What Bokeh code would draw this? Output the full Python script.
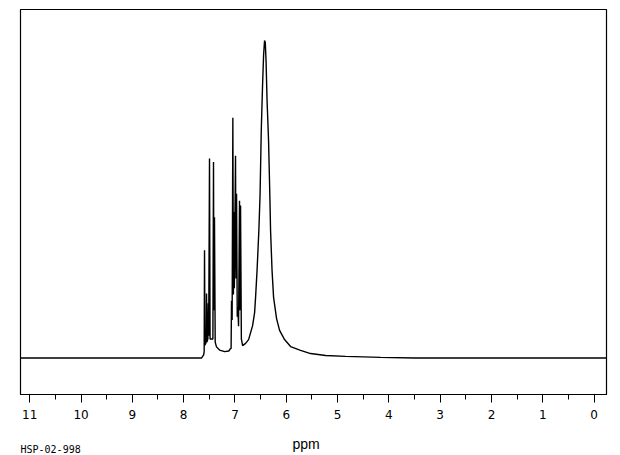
from bokeh.plotting import figure
from bokeh.models import Range1d, SingleIntervalTicker, Label
from bokeh.embed import file_html
from bokeh.resources import INLINE

# Traced spectrum vertices (chemical shift in ppm, relative intensity)
baseline_left_ppm = [11.18, 10.5, 9.5, 8.5, 7.9, 7.65]
baseline_left_int = [0.0, 0.0, 0.0, 0.0, 0.0, 0.0]

aromatic1_ppm = [7.61, 7.600, 7.593, 7.585, 7.560, 7.554, 7.545, 7.528, 7.521,
                 7.512, 7.496, 7.485, 7.43, 7.418, 7.410, 7.399, 7.385, 7.36,
                 7.30, 7.20, 7.12, 7.085]
aromatic1_int = [0.01, 0.02, 0.339, 0.04, 0.05, 0.203, 0.05, 0.06, 0.172,
                 0.07, 0.628, 0.06, 0.06, 0.617, 0.15, 0.443, 0.05, 0.035,
                 0.025, 0.02, 0.022, 0.03]

aromatic2_ppm = [7.075, 7.067, 7.055, 7.041, 7.030, 7.022, 7.012, 6.989, 6.980,
                 6.969, 6.955, 6.944, 6.930, 6.911, 6.900, 6.891, 6.875]
aromatic2_int = [0.03, 0.18, 0.12, 0.757, 0.20, 0.46, 0.22, 0.637, 0.25,
                 0.517, 0.13, 0.16, 0.10, 0.495, 0.15, 0.48, 0.06]

broad_ppm = [6.851, 6.793, 6.734, 6.695, 6.656, 6.617, 6.598, 6.569, 6.534,
             6.511, 6.487, 6.462, 6.442, 6.423, 6.409, 6.394, 6.374, 6.345,
             6.320, 6.306, 6.277, 6.247, 6.189, 6.130, 6.033, 5.916, 5.721,
             5.526, 5.233, 4.843, 4.160]
broad_int = [0.039, 0.046, 0.058, 0.080, 0.102, 0.143, 0.191, 0.276, 0.402,
             0.512, 0.717, 0.858, 0.953, 1.0, 0.994, 0.937, 0.811, 0.685,
             0.512, 0.402, 0.276, 0.191, 0.124, 0.087, 0.058, 0.036, 0.024,
             0.014, 0.008, 0.005, 0.002]

baseline_right_ppm = [3.5, 2.5, 1.5, 0.5, -0.242]
baseline_right_int = [0.0, 0.0, 0.0, 0.0, 0.0]

ppm = baseline_left_ppm + aromatic1_ppm + aromatic2_ppm + broad_ppm + baseline_right_ppm
intensity = baseline_left_int + aromatic1_int + aromatic2_int + broad_int + baseline_right_int

x_label = "ppm"
code_label = "HSP-02-998"

p = figure(width=612, height=455, output_backend="svg", toolbar_location=None,
           x_range=Range1d(11.18, -0.242), y_range=Range1d(-0.115, 1.0976),
           y_axis_location=None)
p.min_border_left = 20
p.min_border_right = 6
p.min_border_top = 9
p.min_border_bottom = 61
p.background_fill_color = "white"
p.border_fill_color = "white"
p.outline_line_color = "black"
p.outline_line_width = 1.2
p.grid.visible = False

p.line(ppm, intensity, line_color="black", line_width=1.4)

ax = p.xaxis[0]
ax.ticker = SingleIntervalTicker(interval=1, num_minor_ticks=2)
ax.axis_line_color = "black"
ax.major_tick_line_color = "black"
ax.minor_tick_line_color = "black"
ax.major_tick_in = 0
ax.major_tick_out = 8
ax.minor_tick_in = 0
ax.minor_tick_out = 5
ax.major_label_standoff = 7
ax.major_label_text_font = "DejaVu Sans"
ax.major_label_text_font_size = "12px"
ax.major_label_text_color = "black"

# texts below the axis, placed in the bottom side panel so they are not clipped
p.add_layout(Label(x=5.613, y=-0.270, text=x_label, text_align="center",
                   text_baseline="alphabetic", text_font="Liberation Sans",
                   text_font_size="14px", text_color="black"), "below")
p.add_layout(Label(x=11.18, y=-0.288, text=code_label, text_align="left",
                   text_baseline="alphabetic", text_font="DejaVu Sans Mono",
                   text_font_size="10px", text_color="black"), "below")

open("out.html", "w").write(file_html(p, INLINE))
